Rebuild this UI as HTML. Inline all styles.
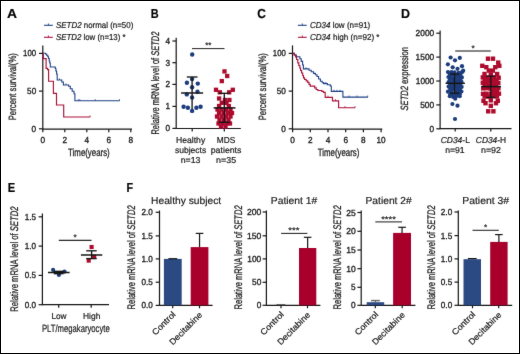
<!DOCTYPE html>
<html><head><meta charset="utf-8"><style>
html,body{margin:0;padding:0;background:#fff;}
svg{display:block;will-change:transform;}
text{text-rendering:geometricPrecision;font-family:"Liberation Sans", sans-serif;stroke:#1a1a1a;stroke-width:0.2px;}
</style></head><body>
<svg width="520" height="354" viewBox="0 0 520 354">
<defs><filter id="soft" filterUnits="userSpaceOnUse" x="0" y="0" width="520" height="354" color-interpolation-filters="sRGB"><feConvolveMatrix order="3" kernelMatrix="0.012 0.05 0.012 0.05 0.752 0.05 0.012 0.05 0.012" edgeMode="duplicate" preserveAlpha="true"/></filter></defs>
<g filter="url(#soft)">
<rect x="0" y="0" width="520" height="354" fill="#fff"/>
<text x="12.100000000000001" y="17.9" font-size="13.0" text-anchor="middle" fill="#000" font-weight="bold" textLength="10.0" lengthAdjust="spacingAndGlyphs" >A</text>
<text x="154.65" y="17.8" font-size="13.0" text-anchor="middle" fill="#000" font-weight="bold" textLength="7.9" lengthAdjust="spacingAndGlyphs" >B</text>
<text x="261.6" y="17.9" font-size="13.0" text-anchor="middle" fill="#000" font-weight="bold" textLength="8.6" lengthAdjust="spacingAndGlyphs" >C</text>
<text x="405.5" y="17.8" font-size="13.0" text-anchor="middle" fill="#000" font-weight="bold" textLength="9.0" lengthAdjust="spacingAndGlyphs" >D</text>
<text x="11.5" y="192.0" font-size="13.0" text-anchor="middle" fill="#000" font-weight="bold" textLength="7.4" lengthAdjust="spacingAndGlyphs" >E</text>
<text x="129.9" y="192.0" font-size="13.0" text-anchor="middle" fill="#000" font-weight="bold" textLength="6.6" lengthAdjust="spacingAndGlyphs" >F</text>
<line x1="44" y1="25.3" x2="52.8" y2="25.3" stroke="#1f4286" stroke-width="1.1"/>
<line x1="48.4" y1="23.5" x2="48.4" y2="25.3" stroke="#1f4286" stroke-width="0.9"/>
<text x="56.0" y="27.8" font-size="8.6" text-anchor="start" fill="#1a1a1a" textLength="77.3" lengthAdjust="spacingAndGlyphs" ><tspan font-style="italic">SETD2</tspan> normal (n=50)</text>
<line x1="44" y1="37.3" x2="52.8" y2="37.3" stroke="#a9123a" stroke-width="1.1"/>
<line x1="48.4" y1="35.5" x2="48.4" y2="37.3" stroke="#a9123a" stroke-width="0.9"/>
<text x="56.0" y="39.8" font-size="8.6" text-anchor="start" fill="#1a1a1a" textLength="69.6" lengthAdjust="spacingAndGlyphs" ><tspan font-style="italic">SETD2</tspan> low (n=13) *</text>
<line x1="42.8" y1="45.4" x2="42.8" y2="129.7" stroke="#161616" stroke-width="1.2"/>
<line x1="39.0" y1="53.4" x2="42.8" y2="53.4" stroke="#161616" stroke-width="1.2"/>
<text x="36.2" y="56.4" font-size="8.8" text-anchor="end" fill="#1a1a1a" style="stroke-width:0.32px" textLength="13.1" lengthAdjust="spacingAndGlyphs" >100</text>
<line x1="39.0" y1="91.1" x2="42.8" y2="91.1" stroke="#161616" stroke-width="1.2"/>
<text x="36.2" y="94.1" font-size="8.8" text-anchor="end" fill="#1a1a1a" style="stroke-width:0.32px" textLength="9.1" lengthAdjust="spacingAndGlyphs" >50</text>
<line x1="39.0" y1="128.8" x2="42.8" y2="128.8" stroke="#161616" stroke-width="1.2"/>
<text x="36.2" y="131.8" font-size="8.8" text-anchor="end" fill="#1a1a1a" style="stroke-width:0.32px" textLength="4.6" lengthAdjust="spacingAndGlyphs" >0</text>
<line x1="42.8" y1="129.2" x2="132.0" y2="129.2" stroke="#161616" stroke-width="1.2"/>
<line x1="42.8" y1="129.2" x2="42.8" y2="132.2" stroke="#161616" stroke-width="1.2"/>
<line x1="64.8" y1="129.2" x2="64.8" y2="132.2" stroke="#161616" stroke-width="1.2"/>
<line x1="86.8" y1="129.2" x2="86.8" y2="132.2" stroke="#161616" stroke-width="1.2"/>
<line x1="108.8" y1="129.2" x2="108.8" y2="132.2" stroke="#161616" stroke-width="1.2"/>
<line x1="130.8" y1="129.2" x2="130.8" y2="132.2" stroke="#161616" stroke-width="1.2"/>
<text x="42.8" y="142.6" font-size="8.8" text-anchor="middle" fill="#1a1a1a" style="stroke-width:0.32px" textLength="4.6" lengthAdjust="spacingAndGlyphs" >0</text>
<text x="64.8" y="142.6" font-size="8.8" text-anchor="middle" fill="#1a1a1a" style="stroke-width:0.32px" textLength="4.6" lengthAdjust="spacingAndGlyphs" >2</text>
<text x="86.8" y="142.6" font-size="8.8" text-anchor="middle" fill="#1a1a1a" style="stroke-width:0.32px" textLength="4.6" lengthAdjust="spacingAndGlyphs" >4</text>
<text x="108.8" y="142.6" font-size="8.8" text-anchor="middle" fill="#1a1a1a" style="stroke-width:0.32px" textLength="4.6" lengthAdjust="spacingAndGlyphs" >6</text>
<text x="130.8" y="142.6" font-size="8.8" text-anchor="middle" fill="#1a1a1a" style="stroke-width:0.32px" textLength="4.6" lengthAdjust="spacingAndGlyphs" >8</text>
<text x="88.9" y="156.3" font-size="10.5" text-anchor="middle" fill="#1a1a1a" style="stroke-width:0.28px" textLength="41.6" lengthAdjust="spacingAndGlyphs" >Time(years)</text>
<text transform="translate(15.9 86.7) rotate(-90)" x="0" y="0" font-size="10.5" text-anchor="middle" fill="#1a1a1a" style="stroke-width:0.28px" textLength="67.2" lengthAdjust="spacingAndGlyphs" >Percent survival(%)</text>
<path d="M42.8,53.3 H45.5 V54 H46.6 V55.3 H47.8 V56.8 H48.5 V58.5 H49.2 V61 H49.7 V63 H50.3 V67 H55.3 V68.5 H55.9 V71 H56.6 V74 H57.2 V80 H61.8 V82 H63.4 V85 H68.6 V86.2 H70.3 V88.7 H72.2 V91.2 H74.0 V93.8 H74.9 V100.8 H119.7" stroke="#1f4286" stroke-width="1.1" fill="none" />
<path d="M43.3,53.3 V58.6 H46.1 V68.3 H47.6 V69.6 H48.6 V81.2 H53.4 V93.4 H56.5 V105 H63.7 V117 H90.3" stroke="#a9123a" stroke-width="1.15" fill="none" />
<line x1="59.5" y1="78.4" x2="59.5" y2="80" stroke="#1f4286" stroke-width="0.8"/>
<line x1="66.0" y1="83.4" x2="66.0" y2="85" stroke="#1f4286" stroke-width="0.8"/>
<line x1="78.3" y1="99.2" x2="78.3" y2="100.8" stroke="#1f4286" stroke-width="0.8"/>
<line x1="79.8" y1="99.2" x2="79.8" y2="100.8" stroke="#1f4286" stroke-width="0.8"/>
<line x1="95.2" y1="99.2" x2="95.2" y2="100.8" stroke="#1f4286" stroke-width="0.8"/>
<line x1="119.5" y1="99.2" x2="119.5" y2="100.8" stroke="#1f4286" stroke-width="0.8"/>
<line x1="90.1" y1="115.4" x2="90.1" y2="117" stroke="#a9123a" stroke-width="0.8"/>
<line x1="297.9" y1="25.3" x2="306.7" y2="25.3" stroke="#1f4286" stroke-width="1.1"/>
<line x1="302.29999999999995" y1="23.5" x2="302.29999999999995" y2="25.3" stroke="#1f4286" stroke-width="0.9"/>
<text x="309.9" y="27.8" font-size="8.6" text-anchor="start" fill="#1a1a1a" textLength="60.4" lengthAdjust="spacingAndGlyphs" ><tspan font-style="italic">CD34</tspan> low (n=91)</text>
<line x1="297.9" y1="37.3" x2="306.7" y2="37.3" stroke="#a9123a" stroke-width="1.1"/>
<line x1="302.29999999999995" y1="35.5" x2="302.29999999999995" y2="37.3" stroke="#a9123a" stroke-width="0.9"/>
<text x="309.9" y="39.8" font-size="8.6" text-anchor="start" fill="#1a1a1a" textLength="69.6" lengthAdjust="spacingAndGlyphs" ><tspan font-style="italic">CD34</tspan> high (n=92) *</text>
<line x1="292.5" y1="45.4" x2="292.5" y2="129.7" stroke="#161616" stroke-width="1.2"/>
<line x1="288.7" y1="53.4" x2="292.5" y2="53.4" stroke="#161616" stroke-width="1.2"/>
<text x="285.9" y="56.4" font-size="8.8" text-anchor="end" fill="#1a1a1a" style="stroke-width:0.32px" textLength="13.1" lengthAdjust="spacingAndGlyphs" >100</text>
<line x1="288.7" y1="91.1" x2="292.5" y2="91.1" stroke="#161616" stroke-width="1.2"/>
<text x="285.9" y="94.1" font-size="8.8" text-anchor="end" fill="#1a1a1a" style="stroke-width:0.32px" textLength="9.1" lengthAdjust="spacingAndGlyphs" >50</text>
<line x1="288.7" y1="128.8" x2="292.5" y2="128.8" stroke="#161616" stroke-width="1.2"/>
<text x="285.9" y="131.8" font-size="8.8" text-anchor="end" fill="#1a1a1a" style="stroke-width:0.32px" textLength="4.6" lengthAdjust="spacingAndGlyphs" >0</text>
<line x1="292.5" y1="129.2" x2="382.3" y2="129.2" stroke="#161616" stroke-width="1.2"/>
<line x1="292.6" y1="129.2" x2="292.6" y2="132.2" stroke="#161616" stroke-width="1.2"/>
<line x1="310.3" y1="129.2" x2="310.3" y2="132.2" stroke="#161616" stroke-width="1.2"/>
<line x1="328.0" y1="129.2" x2="328.0" y2="132.2" stroke="#161616" stroke-width="1.2"/>
<line x1="345.7" y1="129.2" x2="345.7" y2="132.2" stroke="#161616" stroke-width="1.2"/>
<line x1="363.4" y1="129.2" x2="363.4" y2="132.2" stroke="#161616" stroke-width="1.2"/>
<line x1="381.1" y1="129.2" x2="381.1" y2="132.2" stroke="#161616" stroke-width="1.2"/>
<text x="292.6" y="142.6" font-size="8.8" text-anchor="middle" fill="#1a1a1a" style="stroke-width:0.32px" textLength="4.6" lengthAdjust="spacingAndGlyphs" >0</text>
<text x="310.3" y="142.6" font-size="8.8" text-anchor="middle" fill="#1a1a1a" style="stroke-width:0.32px" textLength="4.6" lengthAdjust="spacingAndGlyphs" >2</text>
<text x="328.0" y="142.6" font-size="8.8" text-anchor="middle" fill="#1a1a1a" style="stroke-width:0.32px" textLength="4.6" lengthAdjust="spacingAndGlyphs" >4</text>
<text x="345.7" y="142.6" font-size="8.8" text-anchor="middle" fill="#1a1a1a" style="stroke-width:0.32px" textLength="4.6" lengthAdjust="spacingAndGlyphs" >6</text>
<text x="363.4" y="142.6" font-size="8.8" text-anchor="middle" fill="#1a1a1a" style="stroke-width:0.32px" textLength="4.6" lengthAdjust="spacingAndGlyphs" >8</text>
<text x="381.1" y="142.6" font-size="8.8" text-anchor="middle" fill="#1a1a1a" style="stroke-width:0.32px" textLength="9.1" lengthAdjust="spacingAndGlyphs" >10</text>
<text x="338.6" y="156.3" font-size="10.5" text-anchor="middle" fill="#1a1a1a" style="stroke-width:0.28px" textLength="41.6" lengthAdjust="spacingAndGlyphs" >Time(years)</text>
<text transform="translate(265.59999999999997 86.7) rotate(-90)" x="0" y="0" font-size="10.5" text-anchor="middle" fill="#1a1a1a" style="stroke-width:0.28px" textLength="67.2" lengthAdjust="spacingAndGlyphs" >Percent survival(%)</text>
<path d="M292.6,53.3 H294.5 V55 H296.4 V56.8 H299.9 V58.8 H301.2 V61.4 H302.6 V65 H303.4 V68.9 H309 V70.3 H311.2 V71.8 H313.5 V73.4 H315.4 V74.8 H317 V76.5 H318.6 V79 H320.4 V81.2 H322.2 V82.7 H323.6 V83.6 H327.4 V84.7 H330.3 V86 H331.3 V91.4 H342.9 V97.1 H367.9" stroke="#1f4286" stroke-width="1.1" fill="none" />
<path d="M292.6,53.3 H294 V55 H295.6 V57 H296.6 V59.5 H297.8 V62.8 H298.8 V65.5 H299.8 V68 H300.6 V70.5 H301.6 V73 H302.7 V75.5 H303.5 V77.8 H304.6 V79.5 H306.2 V80.8 H307.7 V82.4 H309 V84.4 H310.2 V86.1 H314.7 V87.8 H316.2 V89.5 H317.8 V90.5 H321.8 V91.3 H323.5 V92.3 H325.2 V97.3 H332.5 V100.8 H338.6 V107.7 H355.2" stroke="#a9123a" stroke-width="1.15" fill="none" />
<line x1="306" y1="67.30000000000001" x2="306" y2="68.9" stroke="#1f4286" stroke-width="0.8"/>
<line x1="323.8" y1="82.0" x2="323.8" y2="83.6" stroke="#1f4286" stroke-width="0.8"/>
<line x1="325.8" y1="82.0" x2="325.8" y2="83.6" stroke="#1f4286" stroke-width="0.8"/>
<line x1="334" y1="89.80000000000001" x2="334" y2="91.4" stroke="#1f4286" stroke-width="0.8"/>
<line x1="337" y1="89.80000000000001" x2="337" y2="91.4" stroke="#1f4286" stroke-width="0.8"/>
<line x1="340" y1="89.80000000000001" x2="340" y2="91.4" stroke="#1f4286" stroke-width="0.8"/>
<line x1="349" y1="95.5" x2="349" y2="97.1" stroke="#1f4286" stroke-width="0.8"/>
<line x1="357" y1="95.5" x2="357" y2="97.1" stroke="#1f4286" stroke-width="0.8"/>
<line x1="367.7" y1="95.5" x2="367.7" y2="97.1" stroke="#1f4286" stroke-width="0.8"/>
<line x1="328" y1="95.7" x2="328" y2="97.3" stroke="#a9123a" stroke-width="0.8"/>
<line x1="335.5" y1="99.2" x2="335.5" y2="100.8" stroke="#a9123a" stroke-width="0.8"/>
<line x1="345" y1="106.10000000000001" x2="345" y2="107.7" stroke="#a9123a" stroke-width="0.8"/>
<line x1="355" y1="106.10000000000001" x2="355" y2="107.7" stroke="#a9123a" stroke-width="0.8"/>
<line x1="176.2" y1="37.8" x2="176.2" y2="129.0" stroke="#161616" stroke-width="1.2"/>
<line x1="172.39999999999998" y1="41.0" x2="176.2" y2="41.0" stroke="#161616" stroke-width="1.2"/>
<text x="170.2" y="44.0" font-size="8.8" text-anchor="end" fill="#1a1a1a" style="stroke-width:0.32px" textLength="4.6" lengthAdjust="spacingAndGlyphs" >4</text>
<line x1="172.39999999999998" y1="62.7" x2="176.2" y2="62.7" stroke="#161616" stroke-width="1.2"/>
<text x="170.2" y="65.7" font-size="8.8" text-anchor="end" fill="#1a1a1a" style="stroke-width:0.32px" textLength="4.6" lengthAdjust="spacingAndGlyphs" >3</text>
<line x1="172.39999999999998" y1="84.4" x2="176.2" y2="84.4" stroke="#161616" stroke-width="1.2"/>
<text x="170.2" y="87.4" font-size="8.8" text-anchor="end" fill="#1a1a1a" style="stroke-width:0.32px" textLength="4.6" lengthAdjust="spacingAndGlyphs" >2</text>
<line x1="172.39999999999998" y1="106.4" x2="176.2" y2="106.4" stroke="#161616" stroke-width="1.2"/>
<text x="170.2" y="109.4" font-size="8.8" text-anchor="end" fill="#1a1a1a" style="stroke-width:0.32px" textLength="4.6" lengthAdjust="spacingAndGlyphs" >1</text>
<line x1="172.39999999999998" y1="128.4" x2="176.2" y2="128.4" stroke="#161616" stroke-width="1.2"/>
<text x="170.2" y="131.4" font-size="8.8" text-anchor="end" fill="#1a1a1a" style="stroke-width:0.32px" textLength="4.6" lengthAdjust="spacingAndGlyphs" >0</text>
<line x1="176.2" y1="128.5" x2="240.8" y2="128.5" stroke="#161616" stroke-width="1.2"/>
<line x1="192.2" y1="128.5" x2="192.2" y2="131.5" stroke="#161616" stroke-width="1.2"/>
<line x1="224.3" y1="128.5" x2="224.3" y2="131.5" stroke="#161616" stroke-width="1.2"/>
<text transform="translate(159.0 83.05) rotate(-90)" x="0" y="0" font-size="11.0" text-anchor="middle" fill="#1a1a1a" style="stroke-width:0.28px" textLength="103.0" lengthAdjust="spacingAndGlyphs" >Relative mRNA level of <tspan font-style="italic">SETD2</tspan></text>
<text x="190.6" y="142.8" font-size="8.6" text-anchor="middle" fill="#1a1a1a" textLength="29.2" lengthAdjust="spacingAndGlyphs" >Healthy</text>
<text x="190.6" y="152.8" font-size="8.6" text-anchor="middle" fill="#1a1a1a" textLength="31.3" lengthAdjust="spacingAndGlyphs" >subjects</text>
<text x="190.6" y="162.8" font-size="8.6" text-anchor="middle" fill="#1a1a1a" textLength="19.7" lengthAdjust="spacingAndGlyphs" >n=13</text>
<text x="226.1" y="142.8" font-size="8.6" text-anchor="middle" fill="#1a1a1a" textLength="18.5" lengthAdjust="spacingAndGlyphs" >MDS</text>
<text x="226.1" y="152.8" font-size="8.6" text-anchor="middle" fill="#1a1a1a" textLength="30.7" lengthAdjust="spacingAndGlyphs" >patients</text>
<text x="226.1" y="162.8" font-size="8.6" text-anchor="middle" fill="#1a1a1a" textLength="20.0" lengthAdjust="spacingAndGlyphs" >n=35</text>
<line x1="192.0" y1="48.6" x2="224.5" y2="48.6" stroke="#222" stroke-width="1.0"/>
<text x="208.35" y="48.0" font-size="8.4" text-anchor="middle" fill="#1a1a1a" textLength="6.2" lengthAdjust="spacingAndGlyphs" >**</text>
<circle cx="192.2" cy="54.5" r="2.2" fill="#1c3c7c" />
<circle cx="192.1" cy="79.1" r="2.2" fill="#1c3c7c" />
<circle cx="186.9" cy="82.7" r="2.2" fill="#1c3c7c" />
<circle cx="197.8" cy="83.6" r="2.2" fill="#1c3c7c" />
<circle cx="192.1" cy="87.3" r="2.2" fill="#1c3c7c" />
<circle cx="197.5" cy="91.8" r="2.2" fill="#1c3c7c" />
<circle cx="186.8" cy="94.4" r="2.2" fill="#1c3c7c" />
<circle cx="192.1" cy="97.5" r="2.2" fill="#1c3c7c" />
<circle cx="183.6" cy="106.7" r="2.2" fill="#1c3c7c" />
<circle cx="187.9" cy="107.7" r="2.2" fill="#1c3c7c" />
<circle cx="192.1" cy="110.9" r="2.2" fill="#1c3c7c" />
<circle cx="196.4" cy="107.7" r="2.2" fill="#1c3c7c" />
<circle cx="200.6" cy="106.7" r="2.2" fill="#1c3c7c" />
<line x1="192.1" y1="77" x2="192.1" y2="109" stroke="#161616" stroke-width="1.35"/>
<line x1="186.8" y1="77" x2="197.5" y2="77" stroke="#161616" stroke-width="1.35"/>
<line x1="181.1" y1="93.0" x2="203.1" y2="93.0" stroke="#161616" stroke-width="1.5"/>
<rect x="222.35" y="69.25" width="4.3" height="4.3" fill="#ad0a2d" />
<rect x="225.04999999999998" y="73.85" width="4.3" height="4.3" fill="#ad0a2d" />
<rect x="219.65" y="78.94999999999999" width="4.3" height="4.3" fill="#ad0a2d" />
<rect x="213.85" y="87.64999999999999" width="4.3" height="4.3" fill="#ad0a2d" />
<rect x="230.65" y="87.64999999999999" width="4.3" height="4.3" fill="#ad0a2d" />
<rect x="217.65" y="90.14999999999999" width="4.3" height="4.3" fill="#ad0a2d" />
<rect x="227.04999999999998" y="90.14999999999999" width="4.3" height="4.3" fill="#ad0a2d" />
<rect x="216.95" y="96.35" width="4.3" height="4.3" fill="#ad0a2d" />
<rect x="222.85" y="97.85" width="4.3" height="4.3" fill="#ad0a2d" />
<rect x="227.25" y="97.85" width="4.3" height="4.3" fill="#ad0a2d" />
<rect x="219.65" y="100.64999999999999" width="4.3" height="4.3" fill="#ad0a2d" />
<rect x="224.35" y="100.85" width="4.3" height="4.3" fill="#ad0a2d" />
<rect x="216.95" y="103.85" width="4.3" height="4.3" fill="#ad0a2d" />
<rect x="226.65" y="103.85" width="4.3" height="4.3" fill="#ad0a2d" />
<rect x="215.35" y="107.35" width="4.3" height="4.3" fill="#ad0a2d" />
<rect x="219.35" y="107.35" width="4.3" height="4.3" fill="#ad0a2d" />
<rect x="223.85" y="107.35" width="4.3" height="4.3" fill="#ad0a2d" />
<rect x="228.35" y="107.35" width="4.3" height="4.3" fill="#ad0a2d" />
<rect x="216.85" y="110.85" width="4.3" height="4.3" fill="#ad0a2d" />
<rect x="221.35" y="110.85" width="4.3" height="4.3" fill="#ad0a2d" />
<rect x="225.85" y="110.85" width="4.3" height="4.3" fill="#ad0a2d" />
<rect x="229.85" y="110.85" width="4.3" height="4.3" fill="#ad0a2d" />
<rect x="214.85" y="114.35" width="4.3" height="4.3" fill="#ad0a2d" />
<rect x="219.35" y="114.35" width="4.3" height="4.3" fill="#ad0a2d" />
<rect x="223.85" y="114.35" width="4.3" height="4.3" fill="#ad0a2d" />
<rect x="228.35" y="114.35" width="4.3" height="4.3" fill="#ad0a2d" />
<rect x="217.35" y="117.85" width="4.3" height="4.3" fill="#ad0a2d" />
<rect x="221.85" y="117.85" width="4.3" height="4.3" fill="#ad0a2d" />
<rect x="226.35" y="117.85" width="4.3" height="4.3" fill="#ad0a2d" />
<rect x="216.35" y="121.35" width="4.3" height="4.3" fill="#ad0a2d" />
<rect x="220.35" y="121.35" width="4.3" height="4.3" fill="#ad0a2d" />
<rect x="224.35" y="121.35" width="4.3" height="4.3" fill="#ad0a2d" />
<rect x="227.85" y="121.35" width="4.3" height="4.3" fill="#ad0a2d" />
<rect x="218.85" y="124.35" width="4.3" height="4.3" fill="#ad0a2d" />
<rect x="223.35" y="124.35" width="4.3" height="4.3" fill="#ad0a2d" />
<line x1="224.3" y1="93.3" x2="224.3" y2="122.3" stroke="#161616" stroke-width="1.35"/>
<line x1="218.7" y1="93.3" x2="229.8" y2="93.3" stroke="#161616" stroke-width="1.35"/>
<line x1="218.7" y1="122.3" x2="229.8" y2="122.3" stroke="#161616" stroke-width="1.35"/>
<line x1="213.6" y1="107.9" x2="235.5" y2="107.9" stroke="#161616" stroke-width="1.5"/>
<line x1="440.1" y1="30.5" x2="440.1" y2="129.2" stroke="#161616" stroke-width="1.2"/>
<line x1="436.3" y1="33.2" x2="440.1" y2="33.2" stroke="#161616" stroke-width="1.2"/>
<text x="434.2" y="36.2" font-size="8.8" text-anchor="end" fill="#1a1a1a" style="stroke-width:0.32px" textLength="18.6" lengthAdjust="spacingAndGlyphs" >2000</text>
<line x1="436.3" y1="57.1" x2="440.1" y2="57.1" stroke="#161616" stroke-width="1.2"/>
<text x="434.2" y="60.1" font-size="8.8" text-anchor="end" fill="#1a1a1a" style="stroke-width:0.32px" textLength="18.6" lengthAdjust="spacingAndGlyphs" >1500</text>
<line x1="436.3" y1="81.0" x2="440.1" y2="81.0" stroke="#161616" stroke-width="1.2"/>
<text x="434.2" y="84.0" font-size="8.8" text-anchor="end" fill="#1a1a1a" style="stroke-width:0.32px" textLength="18.4" lengthAdjust="spacingAndGlyphs" >1000</text>
<line x1="436.3" y1="104.9" x2="440.1" y2="104.9" stroke="#161616" stroke-width="1.2"/>
<text x="434.2" y="107.9" font-size="8.8" text-anchor="end" fill="#1a1a1a" style="stroke-width:0.32px" textLength="14.0" lengthAdjust="spacingAndGlyphs" >500</text>
<line x1="436.3" y1="128.8" x2="440.1" y2="128.8" stroke="#161616" stroke-width="1.2"/>
<text x="434.2" y="131.8" font-size="8.8" text-anchor="end" fill="#1a1a1a" style="stroke-width:0.32px" textLength="4.6" lengthAdjust="spacingAndGlyphs" >0</text>
<line x1="440.1" y1="128.6" x2="511.5" y2="128.6" stroke="#161616" stroke-width="1.2"/>
<line x1="455.2" y1="128.6" x2="455.2" y2="131.6" stroke="#161616" stroke-width="1.2"/>
<line x1="490.8" y1="128.6" x2="490.8" y2="131.6" stroke="#161616" stroke-width="1.2"/>
<text transform="translate(408.0 78.8) rotate(-90)" x="0" y="0" font-size="10.5" text-anchor="middle" fill="#1a1a1a" style="stroke-width:0.28px" textLength="63.4" lengthAdjust="spacingAndGlyphs" ><tspan font-style="italic">SETD2</tspan> expression</text>
<text x="455.3" y="142.8" font-size="8.6" text-anchor="middle" fill="#1a1a1a" textLength="29.2" lengthAdjust="spacingAndGlyphs" ><tspan font-style="italic">CD34</tspan>-L</text>
<text x="491.0" y="142.8" font-size="8.6" text-anchor="middle" fill="#1a1a1a" textLength="30.3" lengthAdjust="spacingAndGlyphs" ><tspan font-style="italic">CD34</tspan>-H</text>
<text x="454.9" y="152.8" font-size="8.6" text-anchor="middle" fill="#1a1a1a" textLength="19.5" lengthAdjust="spacingAndGlyphs" >n=91</text>
<text x="491.0" y="152.8" font-size="8.6" text-anchor="middle" fill="#1a1a1a" textLength="20.0" lengthAdjust="spacingAndGlyphs" >n=92</text>
<line x1="455.2" y1="50.9" x2="490.8" y2="50.9" stroke="#5c5c5c" stroke-width="1.5"/>
<text x="473.1" y="50.9" font-size="8.4" text-anchor="middle" fill="#1a1a1a" textLength="3.2" lengthAdjust="spacingAndGlyphs" >*</text>
<circle cx="450.6" cy="57.5" r="2.1" fill="#1c3c7c" />
<circle cx="455" cy="60.3" r="2.1" fill="#1c3c7c" />
<circle cx="459.8" cy="57.9" r="2.1" fill="#1c3c7c" />
<circle cx="447.9" cy="64.3" r="2.1" fill="#1c3c7c" />
<circle cx="452.7" cy="67.3" r="2.1" fill="#1c3c7c" />
<circle cx="457.5" cy="68.8" r="2.1" fill="#1c3c7c" />
<circle cx="462" cy="66.2" r="2.1" fill="#1c3c7c" />
<circle cx="463.2" cy="70.7" r="2.1" fill="#1c3c7c" />
<circle cx="447.99" cy="72.1" r="2.1" fill="#1c3c7c" />
<circle cx="451.52" cy="72.15" r="2.1" fill="#1c3c7c" />
<circle cx="454.65" cy="72.4" r="2.1" fill="#1c3c7c" />
<circle cx="458.73" cy="72.8" r="2.1" fill="#1c3c7c" />
<circle cx="462.01" cy="72.22" r="2.1" fill="#1c3c7c" />
<circle cx="449.93" cy="74.68" r="2.1" fill="#1c3c7c" />
<circle cx="453.04" cy="74.51" r="2.1" fill="#1c3c7c" />
<circle cx="456.47" cy="75.33" r="2.1" fill="#1c3c7c" />
<circle cx="460.36" cy="75.21" r="2.1" fill="#1c3c7c" />
<circle cx="448.44" cy="76.99" r="2.1" fill="#1c3c7c" />
<circle cx="451.45" cy="77.43" r="2.1" fill="#1c3c7c" />
<circle cx="455.19" cy="77.65" r="2.1" fill="#1c3c7c" />
<circle cx="458.7" cy="76.89" r="2.1" fill="#1c3c7c" />
<circle cx="461.88" cy="77.47" r="2.1" fill="#1c3c7c" />
<circle cx="449.9" cy="79.38" r="2.1" fill="#1c3c7c" />
<circle cx="453.28" cy="79.29" r="2.1" fill="#1c3c7c" />
<circle cx="457.05" cy="80.07" r="2.1" fill="#1c3c7c" />
<circle cx="460.14" cy="79.5" r="2.1" fill="#1c3c7c" />
<circle cx="448.53" cy="82.17" r="2.1" fill="#1c3c7c" />
<circle cx="451.91" cy="82.45" r="2.1" fill="#1c3c7c" />
<circle cx="455.01" cy="82.01" r="2.1" fill="#1c3c7c" />
<circle cx="458.48" cy="82.03" r="2.1" fill="#1c3c7c" />
<circle cx="461.53" cy="81.91" r="2.1" fill="#1c3c7c" />
<circle cx="450.15" cy="84.04" r="2.1" fill="#1c3c7c" />
<circle cx="452.94" cy="84.63" r="2.1" fill="#1c3c7c" />
<circle cx="456.52" cy="84.53" r="2.1" fill="#1c3c7c" />
<circle cx="460.08" cy="84.34" r="2.1" fill="#1c3c7c" />
<circle cx="448.6" cy="86.6" r="2.1" fill="#1c3c7c" />
<circle cx="451.53" cy="86.6" r="2.1" fill="#1c3c7c" />
<circle cx="455.11" cy="86.68" r="2.1" fill="#1c3c7c" />
<circle cx="458.28" cy="87.15" r="2.1" fill="#1c3c7c" />
<circle cx="461.66" cy="86.96" r="2.1" fill="#1c3c7c" />
<circle cx="450.22" cy="88.9" r="2.1" fill="#1c3c7c" />
<circle cx="452.95" cy="89.03" r="2.1" fill="#1c3c7c" />
<circle cx="456.91" cy="89.42" r="2.1" fill="#1c3c7c" />
<circle cx="459.89" cy="89.13" r="2.1" fill="#1c3c7c" />
<circle cx="447.94" cy="91.66" r="2.1" fill="#1c3c7c" />
<circle cx="451.23" cy="91.9" r="2.1" fill="#1c3c7c" />
<circle cx="455.32" cy="92.15" r="2.1" fill="#1c3c7c" />
<circle cx="458.59" cy="92.16" r="2.1" fill="#1c3c7c" />
<circle cx="461.41" cy="91.49" r="2.1" fill="#1c3c7c" />
<circle cx="450.27" cy="94.38" r="2.1" fill="#1c3c7c" />
<circle cx="453.23" cy="94.54" r="2.1" fill="#1c3c7c" />
<circle cx="456.8" cy="94.42" r="2.1" fill="#1c3c7c" />
<circle cx="459.93" cy="93.79" r="2.1" fill="#1c3c7c" />
<circle cx="449.86" cy="96.14" r="2.1" fill="#1c3c7c" />
<circle cx="453.21" cy="96.96" r="2.1" fill="#1c3c7c" />
<circle cx="456.57" cy="96.01" r="2.1" fill="#1c3c7c" />
<circle cx="459.74" cy="96.17" r="2.1" fill="#1c3c7c" />
<circle cx="455.23" cy="98.76" r="2.1" fill="#1c3c7c" />
<circle cx="452.4" cy="104.0" r="2.1" fill="#1c3c7c" />
<circle cx="457.5" cy="105.7" r="2.1" fill="#1c3c7c" />
<circle cx="455.0" cy="119.0" r="2.1" fill="#1c3c7c" />
<line x1="454.5" y1="74" x2="454.5" y2="93.2" stroke="#161616" stroke-width="1.35"/>
<line x1="450.2" y1="74" x2="459.2" y2="74" stroke="#161616" stroke-width="1.35"/>
<line x1="450.2" y1="93.2" x2="459.2" y2="93.2" stroke="#161616" stroke-width="1.35"/>
<line x1="445.6" y1="83.3" x2="464.9" y2="83.3" stroke="#161616" stroke-width="1.5"/>
<rect x="485.8" y="56.5" width="4.4" height="4.4" fill="#ad0a2d" />
<rect x="490.8" y="56.5" width="4.4" height="4.4" fill="#ad0a2d" />
<rect x="496.0" y="60.4" width="4.4" height="4.4" fill="#ad0a2d" />
<rect x="480.1" y="63.6" width="4.4" height="4.4" fill="#ad0a2d" />
<rect x="484.1" y="65.0" width="4.4" height="4.4" fill="#ad0a2d" />
<rect x="493.1" y="65.0" width="4.4" height="4.4" fill="#ad0a2d" />
<rect x="497.1" y="63.6" width="4.4" height="4.4" fill="#ad0a2d" />
<rect x="486.6" y="68.4" width="4.4" height="4.4" fill="#ad0a2d" />
<rect x="490.6" y="68.4" width="4.4" height="4.4" fill="#ad0a2d" />
<rect x="482.3" y="71.8" width="4.4" height="4.4" fill="#ad0a2d" />
<rect x="494.9" y="71.8" width="4.4" height="4.4" fill="#ad0a2d" />
<rect x="488.6" y="72.4" width="4.4" height="4.4" fill="#ad0a2d" />
<rect x="480.6" y="75.18" width="4.4" height="4.4" fill="#ad0a2d" />
<rect x="484.26" y="75.4" width="4.4" height="4.4" fill="#ad0a2d" />
<rect x="488.26" y="75.43" width="4.4" height="4.4" fill="#ad0a2d" />
<rect x="492.18" y="75.33" width="4.4" height="4.4" fill="#ad0a2d" />
<rect x="496.46" y="75.54" width="4.4" height="4.4" fill="#ad0a2d" />
<rect x="482.49" y="77.87" width="4.4" height="4.4" fill="#ad0a2d" />
<rect x="486.94" y="78.15" width="4.4" height="4.4" fill="#ad0a2d" />
<rect x="490.51" y="78.25" width="4.4" height="4.4" fill="#ad0a2d" />
<rect x="494.33" y="78.2" width="4.4" height="4.4" fill="#ad0a2d" />
<rect x="480.64" y="80.55" width="4.4" height="4.4" fill="#ad0a2d" />
<rect x="484.42" y="80.67" width="4.4" height="4.4" fill="#ad0a2d" />
<rect x="488.36" y="81.03" width="4.4" height="4.4" fill="#ad0a2d" />
<rect x="492.19" y="80.73" width="4.4" height="4.4" fill="#ad0a2d" />
<rect x="496.12" y="80.75" width="4.4" height="4.4" fill="#ad0a2d" />
<rect x="482.39" y="83.56" width="4.4" height="4.4" fill="#ad0a2d" />
<rect x="486.66" y="83.74" width="4.4" height="4.4" fill="#ad0a2d" />
<rect x="490.21" y="83.25" width="4.4" height="4.4" fill="#ad0a2d" />
<rect x="494.11" y="83.25" width="4.4" height="4.4" fill="#ad0a2d" />
<rect x="481.04" y="86.15" width="4.4" height="4.4" fill="#ad0a2d" />
<rect x="484.76" y="85.96" width="4.4" height="4.4" fill="#ad0a2d" />
<rect x="488.34" y="86.27" width="4.4" height="4.4" fill="#ad0a2d" />
<rect x="492.19" y="86.23" width="4.4" height="4.4" fill="#ad0a2d" />
<rect x="496.22" y="86.06" width="4.4" height="4.4" fill="#ad0a2d" />
<rect x="490.76" y="89.17" width="4.4" height="4.4" fill="#ad0a2d" />
<rect x="494.59" y="88.63" width="4.4" height="4.4" fill="#ad0a2d" />
<rect x="480.84" y="91.65" width="4.4" height="4.4" fill="#ad0a2d" />
<rect x="484.32" y="91.51" width="4.4" height="4.4" fill="#ad0a2d" />
<rect x="488.67" y="91.57" width="4.4" height="4.4" fill="#ad0a2d" />
<rect x="492.94" y="91.64" width="4.4" height="4.4" fill="#ad0a2d" />
<rect x="496.74" y="91.5" width="4.4" height="4.4" fill="#ad0a2d" />
<rect x="482.47" y="94.27" width="4.4" height="4.4" fill="#ad0a2d" />
<rect x="486.27" y="94.38" width="4.4" height="4.4" fill="#ad0a2d" />
<rect x="490.83" y="94.02" width="4.4" height="4.4" fill="#ad0a2d" />
<rect x="494.75" y="94.3" width="4.4" height="4.4" fill="#ad0a2d" />
<rect x="481.3" y="98.6" width="4.4" height="4.4" fill="#ad0a2d" />
<rect x="488.6" y="98.1" width="4.4" height="4.4" fill="#ad0a2d" />
<rect x="495.6" y="98.6" width="4.4" height="4.4" fill="#ad0a2d" />
<rect x="483.3" y="101.0" width="4.4" height="4.4" fill="#ad0a2d" />
<rect x="493.8" y="101.0" width="4.4" height="4.4" fill="#ad0a2d" />
<rect x="488.6" y="103.7" width="4.4" height="4.4" fill="#ad0a2d" />
<rect x="486.0" y="109.1" width="4.4" height="4.4" fill="#ad0a2d" />
<rect x="491.2" y="109.1" width="4.4" height="4.4" fill="#ad0a2d" />
<line x1="490.8" y1="76.2" x2="490.8" y2="97.4" stroke="#161616" stroke-width="1.35"/>
<line x1="486.3" y1="76.2" x2="495.3" y2="76.2" stroke="#161616" stroke-width="1.35"/>
<line x1="486.3" y1="97.4" x2="495.3" y2="97.4" stroke="#161616" stroke-width="1.35"/>
<line x1="481.2" y1="86.6" x2="501.0" y2="86.6" stroke="#161616" stroke-width="1.5"/>
<line x1="42.4" y1="213.6" x2="42.4" y2="305.3" stroke="#161616" stroke-width="1.2"/>
<line x1="38.6" y1="216.8" x2="42.4" y2="216.8" stroke="#161616" stroke-width="1.2"/>
<text x="36.1" y="219.8" font-size="8.8" text-anchor="end" fill="#1a1a1a" style="stroke-width:0.32px" textLength="11.3" lengthAdjust="spacingAndGlyphs" >1.5</text>
<line x1="38.6" y1="246.1" x2="42.4" y2="246.1" stroke="#161616" stroke-width="1.2"/>
<text x="36.1" y="249.1" font-size="8.8" text-anchor="end" fill="#1a1a1a" style="stroke-width:0.32px" textLength="11.3" lengthAdjust="spacingAndGlyphs" >1.0</text>
<line x1="38.6" y1="275.4" x2="42.4" y2="275.4" stroke="#161616" stroke-width="1.2"/>
<text x="36.1" y="278.4" font-size="8.8" text-anchor="end" fill="#1a1a1a" style="stroke-width:0.32px" textLength="11.3" lengthAdjust="spacingAndGlyphs" >0.5</text>
<line x1="38.6" y1="304.7" x2="42.4" y2="304.7" stroke="#161616" stroke-width="1.2"/>
<text x="36.1" y="307.7" font-size="8.8" text-anchor="end" fill="#1a1a1a" style="stroke-width:0.32px" textLength="11.3" lengthAdjust="spacingAndGlyphs" >0.0</text>
<line x1="42.4" y1="304.7" x2="109.0" y2="304.7" stroke="#161616" stroke-width="1.2"/>
<line x1="58.7" y1="304.7" x2="58.7" y2="307.7" stroke="#161616" stroke-width="1.2"/>
<line x1="91.2" y1="304.7" x2="91.2" y2="307.7" stroke="#161616" stroke-width="1.2"/>
<text transform="translate(18.4 259.15) rotate(-90)" x="0" y="0" font-size="11.0" text-anchor="middle" fill="#1a1a1a" style="stroke-width:0.28px" textLength="105.2" lengthAdjust="spacingAndGlyphs" >Relative mRNA level of <tspan font-style="italic">SETD2</tspan></text>
<text x="59.0" y="318.5" font-size="8.6" text-anchor="middle" fill="#1a1a1a" textLength="15.1" lengthAdjust="spacingAndGlyphs" >Low</text>
<text x="91.7" y="318.5" font-size="8.6" text-anchor="middle" fill="#1a1a1a" textLength="17.3" lengthAdjust="spacingAndGlyphs" >High</text>
<text x="75.8" y="332.4" font-size="10.5" text-anchor="middle" fill="#1a1a1a" textLength="67.8" lengthAdjust="spacingAndGlyphs" >PLT/megakaryocyte</text>
<line x1="58.8" y1="240.4" x2="91.5" y2="240.4" stroke="#2a2a2a" stroke-width="1.2"/>
<text x="75.2" y="239.9" font-size="8.4" text-anchor="middle" fill="#1a1a1a" textLength="3.2" lengthAdjust="spacingAndGlyphs" >*</text>
<circle cx="53.1" cy="269.9" r="2.1" fill="#1c3c7c" />
<circle cx="58.9" cy="275.0" r="2.1" fill="#1c3c7c" />
<circle cx="64.5" cy="271.6" r="2.1" fill="#1c3c7c" />
<line x1="58.8" y1="271.2" x2="58.8" y2="273.8" stroke="#161616" stroke-width="1.35"/>
<line x1="53.8" y1="271.4" x2="63.6" y2="271.4" stroke="#161616" stroke-width="1.5"/>
<line x1="53.8" y1="273.6" x2="63.6" y2="273.6" stroke="#161616" stroke-width="1.5"/>
<line x1="48.0" y1="272.5" x2="69.6" y2="272.5" stroke="#161616" stroke-width="1.5"/>
<rect x="89.55" y="244.95" width="4.1" height="4.1" fill="#ad0a2d" />
<rect x="92.15" y="254.64999999999998" width="4.1" height="4.1" fill="#ad0a2d" />
<rect x="86.65" y="258.55" width="4.1" height="4.1" fill="#ad0a2d" />
<line x1="91.6" y1="250.8" x2="91.6" y2="258.6" stroke="#161616" stroke-width="1.35"/>
<line x1="86.2" y1="250.8" x2="96.7" y2="250.8" stroke="#161616" stroke-width="1.35"/>
<line x1="86.2" y1="258.6" x2="96.7" y2="258.6" stroke="#161616" stroke-width="1.35"/>
<line x1="80.9" y1="255.0" x2="102.3" y2="255.0" stroke="#161616" stroke-width="1.5"/>
<text x="186.1" y="203.8" font-size="10.2" text-anchor="middle" fill="#1a1a1a" textLength="70.0" lengthAdjust="spacingAndGlyphs" style="stroke-width:0.18px">Healthy subject</text>
<line x1="159.5" y1="210.5" x2="159.5" y2="305.8" stroke="#161616" stroke-width="1.2"/>
<line x1="155.7" y1="212.3" x2="159.5" y2="212.3" stroke="#161616" stroke-width="1.2"/>
<text x="152.8" y="215.3" font-size="8.8" text-anchor="end" fill="#1a1a1a" style="stroke-width:0.32px" textLength="11.3" lengthAdjust="spacingAndGlyphs" >2.0</text>
<line x1="155.7" y1="235.9" x2="159.5" y2="235.9" stroke="#161616" stroke-width="1.2"/>
<text x="152.8" y="238.9" font-size="8.8" text-anchor="end" fill="#1a1a1a" style="stroke-width:0.32px" textLength="11.3" lengthAdjust="spacingAndGlyphs" >1.5</text>
<line x1="155.7" y1="258.9" x2="159.5" y2="258.9" stroke="#161616" stroke-width="1.2"/>
<text x="152.8" y="261.9" font-size="8.8" text-anchor="end" fill="#1a1a1a" style="stroke-width:0.32px" textLength="11.3" lengthAdjust="spacingAndGlyphs" >1.0</text>
<line x1="155.7" y1="282.2" x2="159.5" y2="282.2" stroke="#161616" stroke-width="1.2"/>
<text x="152.8" y="285.2" font-size="8.8" text-anchor="end" fill="#1a1a1a" style="stroke-width:0.32px" textLength="11.3" lengthAdjust="spacingAndGlyphs" >0.5</text>
<line x1="155.7" y1="305.4" x2="159.5" y2="305.4" stroke="#161616" stroke-width="1.2"/>
<text x="152.8" y="308.4" font-size="8.8" text-anchor="end" fill="#1a1a1a" style="stroke-width:0.32px" textLength="11.3" lengthAdjust="spacingAndGlyphs" >0.0</text>
<line x1="159.5" y1="305.3" x2="212.6" y2="305.3" stroke="#161616" stroke-width="1.2"/>
<line x1="172.7" y1="305.3" x2="172.7" y2="308.3" stroke="#161616" stroke-width="1.2"/>
<line x1="199.5" y1="305.3" x2="199.5" y2="308.3" stroke="#161616" stroke-width="1.2"/>
<text transform="translate(135.0 257.4) rotate(-90)" x="0" y="0" font-size="11.0" text-anchor="middle" fill="#1a1a1a" style="stroke-width:0.28px" textLength="104.2" lengthAdjust="spacingAndGlyphs" >Relative mRNA level of <tspan font-style="italic">SETD2</tspan></text>
<rect x="163.9" y="258.9" width="17.799999999999983" height="46.400000000000034" fill="#2b4a83" />
<rect x="190.7" y="247.1" width="17.700000000000017" height="58.20000000000002" fill="#a8002b" />
<line x1="199.55" y1="247.1" x2="199.55" y2="233.4" stroke="#161616" stroke-width="1.2"/>
<line x1="195.75" y1="233.4" x2="203.35000000000002" y2="233.4" stroke="#161616" stroke-width="1.2"/>
<line x1="168.4" y1="258.7" x2="177.20000000000002" y2="258.7" stroke="#161616" stroke-width="1.2"/>
<text transform="translate(176.2 315.0) rotate(-45)" x="0" y="0" font-size="8.6" text-anchor="end" fill="#1a1a1a" textLength="29.2" lengthAdjust="spacingAndGlyphs" >Control</text>
<text transform="translate(202.8 315.5) rotate(-45)" x="0" y="0" font-size="8.6" text-anchor="end" fill="#1a1a1a" textLength="42.5" lengthAdjust="spacingAndGlyphs" >Decitabine</text>
<text x="294.05" y="203.8" font-size="10.2" text-anchor="middle" fill="#1a1a1a" textLength="46.5" lengthAdjust="spacingAndGlyphs" style="stroke-width:0.18px">Patient 1#</text>
<line x1="266.4" y1="210.5" x2="266.4" y2="305.8" stroke="#161616" stroke-width="1.2"/>
<line x1="262.59999999999997" y1="212.0" x2="266.4" y2="212.0" stroke="#161616" stroke-width="1.2"/>
<text x="261.3" y="215.0" font-size="8.8" text-anchor="end" fill="#1a1a1a" style="stroke-width:0.32px" textLength="14.3" lengthAdjust="spacingAndGlyphs" >200</text>
<line x1="262.59999999999997" y1="235.8" x2="266.4" y2="235.8" stroke="#161616" stroke-width="1.2"/>
<text x="261.3" y="238.8" font-size="8.8" text-anchor="end" fill="#1a1a1a" style="stroke-width:0.32px" textLength="14.3" lengthAdjust="spacingAndGlyphs" >150</text>
<line x1="262.59999999999997" y1="258.9" x2="266.4" y2="258.9" stroke="#161616" stroke-width="1.2"/>
<text x="261.3" y="261.9" font-size="8.8" text-anchor="end" fill="#1a1a1a" style="stroke-width:0.32px" textLength="14.0" lengthAdjust="spacingAndGlyphs" >100</text>
<line x1="262.59999999999997" y1="282.3" x2="266.4" y2="282.3" stroke="#161616" stroke-width="1.2"/>
<text x="261.3" y="285.3" font-size="8.8" text-anchor="end" fill="#1a1a1a" style="stroke-width:0.32px" textLength="9.3" lengthAdjust="spacingAndGlyphs" >50</text>
<line x1="262.59999999999997" y1="305.3" x2="266.4" y2="305.3" stroke="#161616" stroke-width="1.2"/>
<text x="261.3" y="308.3" font-size="8.8" text-anchor="end" fill="#1a1a1a" style="stroke-width:0.32px" textLength="4.6" lengthAdjust="spacingAndGlyphs" >0</text>
<line x1="266.4" y1="305.3" x2="320.4" y2="305.3" stroke="#161616" stroke-width="1.2"/>
<line x1="281.0" y1="305.3" x2="281.0" y2="308.3" stroke="#161616" stroke-width="1.2"/>
<line x1="307.5" y1="305.3" x2="307.5" y2="308.3" stroke="#161616" stroke-width="1.2"/>
<text transform="translate(241.5 257.4) rotate(-90)" x="0" y="0" font-size="11.0" text-anchor="middle" fill="#1a1a1a" style="stroke-width:0.28px" textLength="104.2" lengthAdjust="spacingAndGlyphs" >Relative mRNA level of <tspan font-style="italic">SETD2</tspan></text>
<rect x="276.3" y="304.3" width="9.0" height="1.0" fill="#3a3a3a" />
<rect x="299.0" y="248.0" width="17.30000000000001" height="57.30000000000001" fill="#a8002b" />
<line x1="307.65" y1="248.0" x2="307.65" y2="237.3" stroke="#161616" stroke-width="1.2"/>
<line x1="303.84999999999997" y1="237.3" x2="311.45" y2="237.3" stroke="#161616" stroke-width="1.2"/>
<line x1="281.1" y1="233.4" x2="307.4" y2="233.4" stroke="#222" stroke-width="1.05"/>
<text x="293.8" y="233.2" font-size="8.4" text-anchor="middle" fill="#1a1a1a" textLength="11.0" lengthAdjust="spacingAndGlyphs" >***</text>
<text transform="translate(284.5 315.0) rotate(-45)" x="0" y="0" font-size="8.6" text-anchor="end" fill="#1a1a1a" textLength="29.2" lengthAdjust="spacingAndGlyphs" >Control</text>
<text transform="translate(310.8 315.5) rotate(-45)" x="0" y="0" font-size="8.6" text-anchor="end" fill="#1a1a1a" textLength="42.5" lengthAdjust="spacingAndGlyphs" >Decitabine</text>
<text x="388.6" y="203.8" font-size="10.2" text-anchor="middle" fill="#1a1a1a" textLength="46.19999999999999" lengthAdjust="spacingAndGlyphs" style="stroke-width:0.18px">Patient 2#</text>
<line x1="361.2" y1="210.5" x2="361.2" y2="305.8" stroke="#161616" stroke-width="1.2"/>
<line x1="357.4" y1="212.5" x2="361.2" y2="212.5" stroke="#161616" stroke-width="1.2"/>
<text x="355.7" y="215.5" font-size="8.8" text-anchor="end" fill="#1a1a1a" style="stroke-width:0.32px" textLength="9.5" lengthAdjust="spacingAndGlyphs" >25</text>
<line x1="357.4" y1="231.3" x2="361.2" y2="231.3" stroke="#161616" stroke-width="1.2"/>
<text x="355.7" y="234.3" font-size="8.8" text-anchor="end" fill="#1a1a1a" style="stroke-width:0.32px" textLength="9.5" lengthAdjust="spacingAndGlyphs" >20</text>
<line x1="357.4" y1="250.0" x2="361.2" y2="250.0" stroke="#161616" stroke-width="1.2"/>
<text x="355.7" y="253.0" font-size="8.8" text-anchor="end" fill="#1a1a1a" style="stroke-width:0.32px" textLength="9.5" lengthAdjust="spacingAndGlyphs" >15</text>
<line x1="357.4" y1="268.7" x2="361.2" y2="268.7" stroke="#161616" stroke-width="1.2"/>
<text x="355.7" y="271.7" font-size="8.8" text-anchor="end" fill="#1a1a1a" style="stroke-width:0.32px" textLength="9.5" lengthAdjust="spacingAndGlyphs" >10</text>
<line x1="357.4" y1="287.3" x2="361.2" y2="287.3" stroke="#161616" stroke-width="1.2"/>
<text x="355.7" y="290.3" font-size="8.8" text-anchor="end" fill="#1a1a1a" style="stroke-width:0.32px" textLength="4.6" lengthAdjust="spacingAndGlyphs" >5</text>
<line x1="357.4" y1="305.3" x2="361.2" y2="305.3" stroke="#161616" stroke-width="1.2"/>
<text x="355.7" y="308.3" font-size="8.8" text-anchor="end" fill="#1a1a1a" style="stroke-width:0.32px" textLength="4.6" lengthAdjust="spacingAndGlyphs" >0</text>
<line x1="361.2" y1="305.3" x2="415.4" y2="305.3" stroke="#161616" stroke-width="1.2"/>
<line x1="375.3" y1="305.3" x2="375.3" y2="308.3" stroke="#161616" stroke-width="1.2"/>
<line x1="402.2" y1="305.3" x2="402.2" y2="308.3" stroke="#161616" stroke-width="1.2"/>
<text transform="translate(341.1 257.4) rotate(-90)" x="0" y="0" font-size="11.0" text-anchor="middle" fill="#1a1a1a" style="stroke-width:0.28px" textLength="104.2" lengthAdjust="spacingAndGlyphs" >Relative mRNA level of <tspan font-style="italic">SETD2</tspan></text>
<rect x="366.7" y="302.2" width="17.5" height="3.1000000000000227" fill="#2b4a83" />
<rect x="393.1" y="232.9" width="17.899999999999977" height="72.4" fill="#a8002b" />
<line x1="402.05" y1="232.9" x2="402.05" y2="227.3" stroke="#161616" stroke-width="1.2"/>
<line x1="398.25" y1="227.3" x2="405.85" y2="227.3" stroke="#161616" stroke-width="1.2"/>
<line x1="375.45" y1="300.6" x2="375.45" y2="302.2" stroke="#555" stroke-width="1.0"/>
<line x1="371.05" y1="300.6" x2="379.84999999999997" y2="300.6" stroke="#6a6a6a" stroke-width="1.5"/>
<line x1="375.3" y1="221.9" x2="402.0" y2="221.9" stroke="#222" stroke-width="1.05"/>
<text x="388.5" y="221.5" font-size="8.4" text-anchor="middle" fill="#1a1a1a" textLength="14.6" lengthAdjust="spacingAndGlyphs" >****</text>
<text transform="translate(378.8 315.0) rotate(-45)" x="0" y="0" font-size="8.6" text-anchor="end" fill="#1a1a1a" textLength="29.2" lengthAdjust="spacingAndGlyphs" >Control</text>
<text transform="translate(405.5 315.5) rotate(-45)" x="0" y="0" font-size="8.6" text-anchor="end" fill="#1a1a1a" textLength="42.5" lengthAdjust="spacingAndGlyphs" >Decitabine</text>
<text x="485.7" y="203.8" font-size="10.2" text-anchor="middle" fill="#1a1a1a" textLength="47.0" lengthAdjust="spacingAndGlyphs" style="stroke-width:0.18px">Patient 3#</text>
<line x1="458.3" y1="210.5" x2="458.3" y2="305.8" stroke="#161616" stroke-width="1.2"/>
<line x1="454.5" y1="212.0" x2="458.3" y2="212.0" stroke="#161616" stroke-width="1.2"/>
<text x="452.2" y="215.0" font-size="8.8" text-anchor="end" fill="#1a1a1a" style="stroke-width:0.32px" textLength="11.4" lengthAdjust="spacingAndGlyphs" >2.0</text>
<line x1="454.5" y1="235.6" x2="458.3" y2="235.6" stroke="#161616" stroke-width="1.2"/>
<text x="452.2" y="238.6" font-size="8.8" text-anchor="end" fill="#1a1a1a" style="stroke-width:0.32px" textLength="11.4" lengthAdjust="spacingAndGlyphs" >1.5</text>
<line x1="454.5" y1="258.9" x2="458.3" y2="258.9" stroke="#161616" stroke-width="1.2"/>
<text x="452.2" y="261.9" font-size="8.8" text-anchor="end" fill="#1a1a1a" style="stroke-width:0.32px" textLength="11.4" lengthAdjust="spacingAndGlyphs" >1.0</text>
<line x1="454.5" y1="282.1" x2="458.3" y2="282.1" stroke="#161616" stroke-width="1.2"/>
<text x="452.2" y="285.1" font-size="8.8" text-anchor="end" fill="#1a1a1a" style="stroke-width:0.32px" textLength="11.4" lengthAdjust="spacingAndGlyphs" >0.5</text>
<line x1="454.5" y1="305.3" x2="458.3" y2="305.3" stroke="#161616" stroke-width="1.2"/>
<text x="452.2" y="308.3" font-size="8.8" text-anchor="end" fill="#1a1a1a" style="stroke-width:0.32px" textLength="11.4" lengthAdjust="spacingAndGlyphs" >0.0</text>
<line x1="458.3" y1="305.3" x2="512.2" y2="305.3" stroke="#161616" stroke-width="1.2"/>
<line x1="472.5" y1="305.3" x2="472.5" y2="308.3" stroke="#161616" stroke-width="1.2"/>
<line x1="498.7" y1="305.3" x2="498.7" y2="308.3" stroke="#161616" stroke-width="1.2"/>
<text transform="translate(435.0 257.4) rotate(-90)" x="0" y="0" font-size="11.0" text-anchor="middle" fill="#1a1a1a" style="stroke-width:0.28px" textLength="104.2" lengthAdjust="spacingAndGlyphs" >Relative mRNA level of <tspan font-style="italic">SETD2</tspan></text>
<rect x="463.5" y="259.2" width="17.5" height="46.10000000000002" fill="#2b4a83" />
<rect x="490.2" y="241.9" width="17.400000000000034" height="63.400000000000006" fill="#a8002b" />
<line x1="498.9" y1="241.9" x2="498.9" y2="234.6" stroke="#161616" stroke-width="1.2"/>
<line x1="495.09999999999997" y1="234.6" x2="502.7" y2="234.6" stroke="#161616" stroke-width="1.2"/>
<line x1="467.85" y1="258.6" x2="476.65" y2="258.6" stroke="#161616" stroke-width="1.2"/>
<line x1="472.5" y1="230.3" x2="498.8" y2="230.3" stroke="#222" stroke-width="1.05"/>
<text x="485.5" y="230.3" font-size="8.4" text-anchor="middle" fill="#1a1a1a" textLength="3.2" lengthAdjust="spacingAndGlyphs" >*</text>
<text transform="translate(476.0 315.0) rotate(-45)" x="0" y="0" font-size="8.6" text-anchor="end" fill="#1a1a1a" textLength="29.2" lengthAdjust="spacingAndGlyphs" >Control</text>
<text transform="translate(502.0 315.5) rotate(-45)" x="0" y="0" font-size="8.6" text-anchor="end" fill="#1a1a1a" textLength="42.5" lengthAdjust="spacingAndGlyphs" >Decitabine</text>
</g>
<rect x="0.5" y="0.5" width="519" height="353" fill="none" stroke="#000" stroke-width="1"/>
</svg>
</body></html>
